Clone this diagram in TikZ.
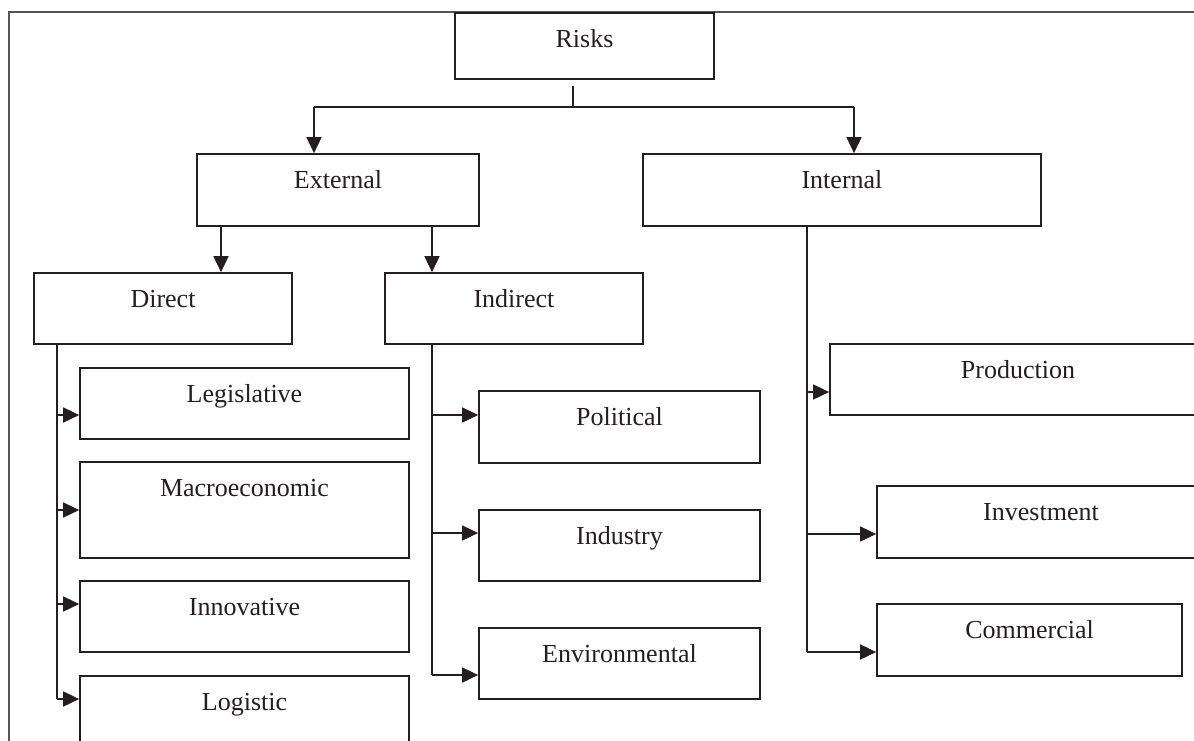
\documentclass[tikz,border=0pt]{standalone}
\usepackage{fontspec}
\setmainfont{Liberation Serif}
\usetikzlibrary{arrows.meta}
\definecolor{ink}{HTML}{231F20}
\definecolor{framec}{HTML}{555555}
\tikzset{
  bx/.style={draw=ink, line width=1.7pt, inner sep=0pt, minimum width=#1},
  bx/.default=100pt,
  txt/.style={anchor=base, yshift=-35pt, inner sep=0pt, text=ink, font=\fontsize{26}{30}\selectfont},
  conn/.style={draw=ink, line width=1.7pt},
  arr/.style={conn, -{Triangle[length=16pt,width=15pt]}},
  framel/.style={draw=framec, line width=1.1pt}
}
\begin{document}
\begin{tikzpicture}[x=1pt,y=-1pt]
\useasboundingbox (0,0) rectangle (1194,740);
\clip (0,0) rectangle (1194,740);
% outer frame
\draw[framel] (1194,12) -- (9,12) -- (9,741);
% boxes
\node[bx=259pt, minimum height=66pt, label={[txt]north:Risks}] (risks) at (584.5,46) {};
\node[bx=282pt, minimum height=72pt, label={[txt]north:External}] (ext) at (338,190) {};
\node[bx=398pt, minimum height=72pt, label={[txt]north:Internal}] (int) at (842,190) {};
\node[bx=258pt, minimum height=71pt, label={[txt]north:Direct}] (direct) at (163,308.5) {};
\node[bx=258pt, minimum height=71pt, label={[txt]north:Indirect}] (indirect) at (514,308.5) {};
\node[bx=329pt, minimum height=71pt, label={[txt]north:Legislative}] (legis) at (244.5,403.5) {};
\node[bx=329pt, minimum height=96pt, label={[txt]north:Macroeconomic}] (macro) at (244.5,510) {};
\node[bx=329pt, minimum height=71pt, label={[txt]north:Innovative}] (innov) at (244.5,616.5) {};
\node[bx=329pt, minimum height=71pt, label={[txt]north:Logistic}] (logis) at (244.5,711.5) {};
\node[bx=281pt, minimum height=72pt, label={[txt]north:Political}] (polit) at (619.5,427) {};
\node[bx=281pt, minimum height=71pt, label={[txt]north:Industry}] (indus) at (619.5,545.5) {};
\node[bx=281pt, minimum height=71pt, label={[txt]north:Environmental}] (envir) at (619.5,663.5) {};
\node[bx=376pt, minimum height=71pt, label={[txt]north:Production}] (prod) at (1018,379.5) {};
\node[bx=328pt, minimum height=72pt, label={[txt]north:Investment}] (invest) at (1041,522) {};
\node[bx=305pt, minimum height=72pt, label={[txt]north:Commercial}] (comm) at (1029.5,640) {};
% junction coordinates
\coordinate (rj) at (573,107);
\coordinate (xe) at (314,0);
\coordinate (xi) at (854,0);
\coordinate (xd) at (221,0);
\coordinate (xn) at (432,0);
\coordinate (dL) at (57,415);
\coordinate (dM) at (57,510);
\coordinate (dI) at (57,604);
\coordinate (dG) at (57,699);
\coordinate (nP) at (432,415);
\coordinate (nI) at (432,533);
\coordinate (nE) at (432,675);
\coordinate (iP) at (807,392);
\coordinate (iI) at (807,534);
\coordinate (iC) at (807,652);
% Risks connectors
\draw[conn] ([yshift=-6pt]risks.south -| rj) -- (rj);
\draw[conn] (rj) -- (rj -| xe);
\draw[conn] (rj) -- (rj -| xi);
\draw[arr] (rj -| xe) -- (ext.north -| xe);
\draw[arr] (rj -| xi) -- (int.north -| xi);
% External connectors
\draw[arr] (ext.south -| xd) -- (direct.north -| xd);
\draw[arr] (ext.south -| xn) -- (indirect.north -| xn);
% Direct trunk
\draw[conn] (direct.south -| dL) -- (dG);
\draw[arr] (dL) -- (legis.west |- dL);
\draw[arr] (dM) -- (macro.west |- dM);
\draw[arr] (dI) -- (innov.west |- dI);
\draw[arr] (dG) -- (logis.west |- dG);
% Indirect trunk
\draw[conn] (indirect.south -| nP) -- (nE);
\draw[arr] (nP) -- (polit.west |- nP);
\draw[arr] (nI) -- (indus.west |- nI);
\draw[arr] (nE) -- (envir.west |- nE);
% Internal trunk
\draw[conn] (int.south -| iP) -- (iC);
\draw[arr] (iP) -- (prod.west |- iP);
\draw[arr] (iI) -- (invest.west |- iI);
\draw[arr] (iC) -- (comm.west |- iC);
\end{tikzpicture}
\end{document}
